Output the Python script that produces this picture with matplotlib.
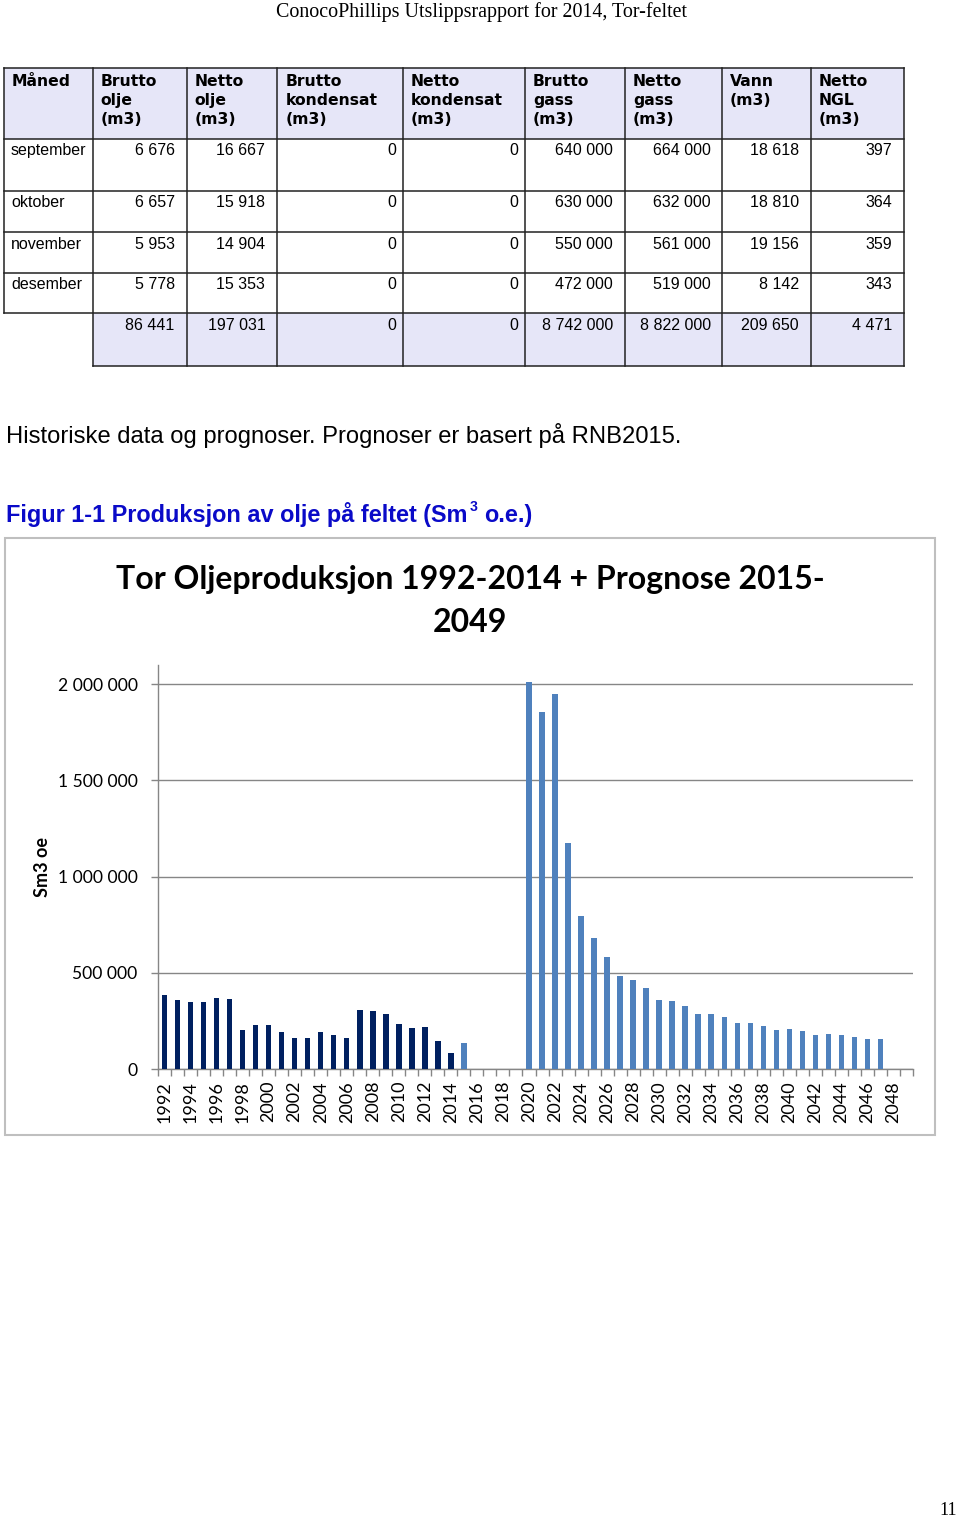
import matplotlib
matplotlib.use("Agg")
import matplotlib.pyplot as plt
from matplotlib.patches import Rectangle
from matplotlib.ticker import FuncFormatter
import numpy as np

# --- table data (monthly report) ---
headers = ["Måned", "Brutto\nolje\n(m3)", "Netto\nolje\n(m3)", "Brutto\nkondensat\n(m3)",
           "Netto\nkondensat\n(m3)", "Brutto\ngass\n(m3)", "Netto\ngass\n(m3)", "Vann\n(m3)",
           "Netto\nNGL\n(m3)"]
months = ["september", "oktober", "november", "desember"]
brutto_olje = ["6 676", "6 657", "5 953", "5 778"]
netto_olje = ["16 667", "15 918", "14 904", "15 353"]
brutto_kond = ["0", "0", "0", "0"]
netto_kond = ["0", "0", "0", "0"]
brutto_gass = ["640 000", "630 000", "550 000", "472 000"]
netto_gass = ["664 000", "632 000", "561 000", "519 000"]
vann = ["18 618", "18 810", "19 156", "8 142"]
netto_ngl = ["397", "364", "359", "343"]
totals = ["86 441", "197 031", "0", "0", "8 742 000", "8 822 000", "209 650", "4 471"]

# --- chart data (Sm3 oe per year) ---
years = list(range(1992, 2050))
hist_years = list(range(1992, 2015))
hist_prod = [386000, 360000, 348000, 348000, 369000, 364000, 204000, 229000, 229000,
             194000, 159000, 159000, 194000, 177000, 159000, 308000, 303000, 286000,
             232000, 215000, 218000, 147000, 83000]
prog_years = list(range(2015, 2050))
prog_prod = [133000, 0, 0, 0, 0,
             2012000, 1855000, 1948000, 1177000, 795000, 680000, 580000, 486000,
             465000, 421000, 360000, 351000, 327000, 286000, 287000, 268000, 237000,
             239000, 226000, 203000, 206000, 195000, 177000, 182000, 175000, 168000,
             154000, 157000, 0, 0]

W, H = 960, 1518
fig = plt.figure(figsize=(W / 100, H / 100), dpi=100)
bg = fig.add_axes([0, 0, 1, 1])
bg.set_xlim(0, W)
bg.set_ylim(H, 0)
bg.axis("off")
renderer = fig.canvas.get_renderer()

def pt(px):
    return px * 72 / 100

# page header
bg.text(482, 16.5, "ConocoPhillips Utslippsrapport for 2014, Tor-feltet", family="Liberation Serif",
        fontsize=pt(20), ha="center", va="baseline", color="black")

# table
col_x = [4, 92.7, 186.7, 277.3, 402.7, 525, 625, 721.7, 810.7, 904]
row_y = [68.3, 139, 191, 232.3, 272.7, 313.3, 365.7]
head_bg = "#e6e6f8"
line_c = "#222222"
bg.add_patch(Rectangle((col_x[0], row_y[0]), col_x[-1] - col_x[0], row_y[1] - row_y[0],
                       facecolor=head_bg, edgecolor="none"))
bg.add_patch(Rectangle((col_x[1], row_y[5]), col_x[-1] - col_x[1], row_y[6] - row_y[5],
                       facecolor=head_bg, edgecolor="none"))
for y in row_y[:6]:
    bg.plot([col_x[0], col_x[-1]], [y, y], color=line_c, lw=1.1)
bg.plot([col_x[1], col_x[-1]], [row_y[6], row_y[6]], color=line_c, lw=1.1)
for i, x in enumerate(col_x):
    y_end = row_y[5] if i == 0 else row_y[6]
    bg.plot([x, x], [row_y[0], y_end], color=line_c, lw=1.1)

for i, h in enumerate(headers):
    for k, line in enumerate(h.split("\n")):
        bg.text(col_x[i] + 8, 86 + 19 * k, line, family="DejaVu Sans", weight="bold",
                fontsize=pt(15.6), ha="left", va="baseline")

columns = [brutto_olje, netto_olje, brutto_kond, netto_kond, brutto_gass, netto_gass, vann, netto_ngl]
pads = [12, 12, 6, 7, 12, 11, 12, 12]
for r, m in enumerate(months):
    base = row_y[r + 1] + 16.3
    bg.text(11, base, m, family="Liberation Sans", fontsize=pt(16), ha="left", va="baseline")
    for c, col in enumerate(columns):
        bg.text(col_x[c + 2] - pads[c], base, col[r], family="Liberation Sans", fontsize=pt(16),
                ha="right", va="baseline")
for c, t in enumerate(totals):
    bg.text(col_x[c + 2] - pads[c], row_y[5] + 16.3, t, family="Liberation Sans", fontsize=pt(16),
            ha="right", va="baseline")

# body text and caption
bg.text(6, 443, "Historiske data og prognoser. Prognoser er basert på RNB2015.",
        family="Liberation Sans", fontsize=pt(23.7), ha="left", va="baseline")
blue = "#0a0ac8"
cap1 = bg.text(6, 522, "Figur 1-1 Produksjon av olje på feltet (Sm", family="Liberation Sans",
               weight="bold", fontsize=pt(23.5), color=blue, ha="left", va="baseline")
x_end = cap1.get_window_extent(renderer).x1
bg.text(x_end + 2, 511, "3", family="Liberation Sans", weight="bold", fontsize=pt(14),
        color=blue, ha="left", va="baseline")
bg.text(x_end + 17, 522, "o.e.)", family="Liberation Sans", weight="bold", fontsize=pt(23.5),
        color=blue, ha="left", va="baseline")

# chart frame and titles
bg.add_patch(Rectangle((5, 538), 930, 597, facecolor="white", edgecolor="#bfbfbf", lw=1.5))
bg.text(470, 589, "Tor Oljeproduksjon 1992-2014 + Prognose 2015-", family="Lato", weight="bold",
        fontsize=pt(32), ha="center", va="baseline")
bg.text(470, 632, "2049", family="Lato", weight="bold", fontsize=pt(32), ha="center", va="baseline")
bg.text(43, 867, "Sm3 oe", family="Lato", weight="bold", fontsize=pt(18), rotation=90,
        ha="center", va="center")

# page number
bg.text(948, 1515, "11", family="Liberation Serif", fontsize=pt(18), ha="center", va="baseline")

# bar chart
ax = fig.add_axes([158 / W, (H - 1069) / H, 755 / W, (1069 - 665) / H])
ax.patch.set_alpha(0)
xh = [years.index(y) for y in hist_years]
xp = [years.index(y) for y in prog_years]
ax.bar(xh, hist_prod, width=0.42, color="#002060", zorder=3)
ax.bar(xp, prog_prod, width=0.42, color="#4f81bd", zorder=3)
ax.set_xlim(-0.5, len(years) - 0.5)
ax.set_ylim(0, 2100000)

grey = "#868686"
ax.set_yticks([0, 500000, 1000000, 1500000, 2000000])
ax.yaxis.set_major_formatter(FuncFormatter(lambda v, p: f"{int(v):,}".replace(",", " ")))
ax.yaxis.grid(True, color=grey, lw=1)
ax.set_axisbelow(True)
ax.tick_params(axis="y", length=5, width=1, color=grey, pad=pt(13.5),
               labelsize=pt(17.5), direction="out")
for lab in ax.get_yticklabels():
    lab.set_family("Lato")

label_idx = list(range(0, len(years), 2))
ax.set_xticks(label_idx)
ax.set_xticklabels([str(years[i]) for i in label_idx], rotation=90, family="Lato",
                   fontsize=pt(18))
ax.set_xticks(np.arange(-0.5, len(years), 1), minor=True)
ax.tick_params(axis="x", which="major", length=0, pad=pt(12))
ax.tick_params(axis="x", which="minor", length=5, width=1, color=grey, direction="out")

for s in ["top", "right"]:
    ax.spines[s].set_visible(False)
for s in ["left", "bottom"]:
    ax.spines[s].set_color(grey)
    ax.spines[s].set_linewidth(1)

fig.savefig("out.png", dpi=100)
